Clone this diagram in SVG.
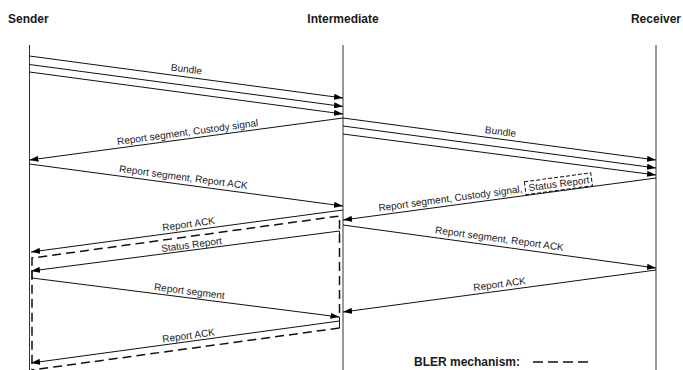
<svg xmlns="http://www.w3.org/2000/svg" width="683" height="370" viewBox="0 0 683 370">
<style>
.title{font-family:"Liberation Sans",Arial,sans-serif;font-size:12px;font-weight:bold;fill:#1a1a1a}
.lbl{font-family:"Liberation Sans",Arial,sans-serif;font-size:10px;fill:#222;text-anchor:middle}
.life{stroke:#333;stroke-width:1;fill:none}
.msg{stroke:#111;stroke-width:1;fill:none;marker-end:url(#ah)}
.plain{stroke:#111;stroke-width:1;fill:none}
.bler{stroke:#111;stroke-width:1.5;fill:none;stroke-dasharray:9,5}
</style>
<defs>
<marker id="ah" markerWidth="9" markerHeight="6" refX="9" refY="3" orient="auto" markerUnits="userSpaceOnUse">
<path d="M0,0 L9,3 L0,6 z" fill="#000"/>
</marker>
</defs>
<rect width="683" height="370" fill="#fff"/>
<g id="sender">
<text class="title" x="8" y="23">Sender</text>
<line class="life" x1="29.5" y1="45" x2="29.5" y2="370"/>
</g>
<g id="intermediate">
<text class="title" x="343" y="23" text-anchor="middle">Intermediate</text>
<line class="life" x1="343" y1="45" x2="343" y2="370"/>
</g>
<g id="receiver">
<text class="title" x="681" y="23" text-anchor="end">Receiver</text>
<line class="life" x1="656" y1="45" x2="656" y2="370"/>
</g>
<g id="connectors">
<line class="msg" x1="29.5" y1="56" x2="343" y2="98"/>
<line class="msg" x1="29.5" y1="64.5" x2="343" y2="106.5"/>
<line class="msg" x1="29.5" y1="72" x2="343" y2="114"/>
<text class="lbl" x="186" y="72.5" transform="rotate(7.63 186 72.5)">Bundle</text>
<line class="msg" x1="343" y1="118" x2="29.5" y2="160"/>
<text class="lbl" x="188" y="135.5" transform="rotate(-7.63 188 135.5)">Report segment, Custody signal</text>
<line class="msg" x1="343" y1="118" x2="656" y2="160"/>
<line class="msg" x1="343" y1="126" x2="656" y2="168"/>
<line class="msg" x1="343" y1="134" x2="656" y2="175"/>
<text class="lbl" x="500" y="135" transform="rotate(7.63 500 135)">Bundle</text>
<line class="msg" x1="29.5" y1="164" x2="343" y2="206"/>
<text class="lbl" x="183" y="180.5" transform="rotate(7.63 183 180.5)">Report segment, Report ACK</text>
<line class="msg" x1="656" y1="178" x2="343" y2="220"/>
<g transform="translate(486 197) rotate(-7.64)">
<text class="lbl" x="37" y="0" style="text-anchor:end">Report segment, Custody signal,</text>
<rect x="40" y="-10" width="67" height="13" fill="none" stroke="#111" stroke-width="1" stroke-dasharray="4,2"/>
<text class="lbl" x="43.5" y="0" style="text-anchor:start">Status Report</text>
</g>
<line class="msg" x1="343" y1="210" x2="31" y2="252"/>
<text class="lbl" x="189" y="227.5" transform="rotate(-7.67 189 227.5)">Report ACK</text>
<polyline class="bler" points="339.5,313 339.5,216 32,258 32,370"/>
<polyline class="plain" points="339.5,240 339.5,231"/>
<line class="msg" x1="339.5" y1="231" x2="31" y2="271"/>
<text class="lbl" x="192" y="248" transform="rotate(-7.39 192 248)">Status Report</text>
<line class="plain" x1="32" y1="271" x2="32" y2="279"/>
<line class="msg" x1="32" y1="278" x2="339.5" y2="317"/>
<text class="lbl" x="189" y="294.5" transform="rotate(7.23 189 294.5)">Report segment</text>
<line class="plain" x1="339.5" y1="317" x2="339.5" y2="328"/>
<line class="msg" x1="339.5" y1="321" x2="31" y2="363"/>
<text class="lbl" x="189" y="339" transform="rotate(-7.75 189 339)">Report ACK</text>
<line class="bler" x1="339.5" y1="328" x2="32" y2="370"/>
<line class="msg" x1="343" y1="225" x2="656" y2="268"/>
<text class="lbl" x="499" y="242" transform="rotate(7.82 499 242)">Report segment, Report ACK</text>
<line class="msg" x1="656" y1="270" x2="343" y2="312"/>
<text class="lbl" x="500" y="287.5" transform="rotate(-7.64 500 287.5)">Report ACK</text>
</g>
<g id="legend">
<text class="title" x="414" y="366">BLER mechanism:</text>
<line x1="533" y1="362" x2="588" y2="362" stroke="#111" stroke-width="1.5" stroke-dasharray="10,5"/>
</g>
</svg>
